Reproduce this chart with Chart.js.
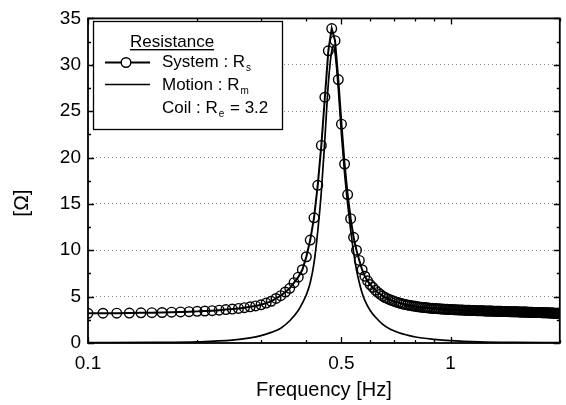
<!DOCTYPE html>
<html>
<head>
<meta charset="utf-8">
<script src="https://cdn.jsdelivr.net/npm/chart.js@4/dist/chart.umd.min.js"></script>
<style>
  body { margin: 0; background: #fff; }
  #chart { display: block; }
</style>
</head>
<body>
<canvas id="chart" width="566" height="405"></canvas>
<script>
const sysFreq = [
  0.10, 0.11, 0.12, 0.13, 0.14, 0.15, 0.16, 0.17, 0.18, 0.19,
  0.20, 0.21, 0.22, 0.23, 0.24, 0.25, 0.26, 0.27, 0.28, 0.29,
  0.30, 0.31, 0.32, 0.33, 0.34, 0.35, 0.36, 0.37, 0.38, 0.39,
  0.40, 0.41, 0.42, 0.43, 0.44, 0.45, 0.46, 0.47, 0.48, 0.49,
  0.50, 0.51, 0.52, 0.53, 0.54, 0.55, 0.56, 0.57, 0.58, 0.59,
  0.60, 0.61, 0.62, 0.63, 0.64, 0.65, 0.66, 0.67, 0.68, 0.69,
  0.70, 0.71, 0.72, 0.73, 0.74, 0.75, 0.76, 0.77, 0.78, 0.79,
  0.80, 0.81, 0.82, 0.83, 0.84, 0.85, 0.86, 0.87, 0.88, 0.89,
  0.90, 0.91, 0.92, 0.93, 0.94, 0.95, 0.96, 0.97, 0.98, 0.99,
  1.00, 1.01, 1.02, 1.03, 1.04, 1.05, 1.06, 1.07, 1.08, 1.09,
  1.10, 1.11, 1.12, 1.13, 1.14, 1.15, 1.16, 1.17, 1.18, 1.19,
  1.20, 1.21, 1.22, 1.23, 1.24, 1.25, 1.26, 1.27, 1.28, 1.29,
  1.30, 1.31, 1.32, 1.33, 1.34, 1.35, 1.36, 1.37, 1.38, 1.39,
  1.40, 1.41, 1.42, 1.43, 1.44, 1.45, 1.46, 1.47, 1.48, 1.49,
  1.50, 1.51, 1.52, 1.53, 1.54, 1.55, 1.56, 1.57, 1.58, 1.59,
  1.60, 1.61, 1.62, 1.63, 1.64, 1.65, 1.66, 1.67, 1.68, 1.69,
  1.70, 1.71, 1.72, 1.73, 1.74, 1.75, 1.76, 1.77, 1.78, 1.79,
  1.80, 1.81, 1.82, 1.83, 1.84, 1.85, 1.86, 1.87, 1.88, 1.89,
  1.90, 1.91, 1.92, 1.93, 1.94, 1.95, 1.96, 1.97, 1.98, 1.99,
  2.00
];
const sysRes = [
  3.20, 3.21, 3.22, 3.23, 3.25, 3.27, 3.29, 3.32, 3.35, 3.38,
  3.41, 3.45, 3.49, 3.54, 3.60, 3.66, 3.73, 3.81, 3.90, 4.00,
  4.12, 4.30, 4.50, 4.80, 5.10, 5.50, 5.90, 6.50, 7.10, 7.90,
  9.30, 11.1, 13.5, 17.0, 21.3, 26.5, 31.5, 33.9, 32.6, 28.4,
  23.6, 19.3, 16.0, 13.4, 11.4, 10.0, 8.90, 7.90, 7.20, 6.70,
  6.30, 6.00, 5.70, 5.45, 5.25, 5.05, 4.90, 4.78, 4.67, 4.57,
  4.48, 4.40, 4.33, 4.26, 4.20, 4.15, 4.10, 4.06, 4.02, 3.98,
  3.95, 3.92, 3.89, 3.86, 3.84, 3.82, 3.80, 3.78, 3.76, 3.74,
  3.72, 3.71, 3.70, 3.68, 3.67, 3.66, 3.65, 3.64, 3.63, 3.62,
  3.61, 3.60, 3.59, 3.58, 3.58, 3.57, 3.56, 3.56, 3.55, 3.54,
  3.54, 3.53, 3.52, 3.52, 3.51, 3.51, 3.50, 3.50, 3.49, 3.49,
  3.48, 3.48, 3.47, 3.47, 3.46, 3.46, 3.45, 3.45, 3.45, 3.44,
  3.44, 3.43, 3.43, 3.43, 3.42, 3.42, 3.41, 3.41, 3.41, 3.40,
  3.40, 3.40, 3.39, 3.39, 3.39, 3.38, 3.38, 3.38, 3.37, 3.37,
  3.37, 3.36, 3.36, 3.36, 3.35, 3.35, 3.35, 3.34, 3.34, 3.34,
  3.33, 3.33, 3.33, 3.32, 3.32, 3.32, 3.31, 3.31, 3.31, 3.30,
  3.30, 3.30, 3.29, 3.29, 3.29, 3.28, 3.28, 3.28, 3.27, 3.27,
  3.27, 3.26, 3.26, 3.26, 3.25, 3.25, 3.25, 3.24, 3.24, 3.24,
  3.23, 3.23, 3.23, 3.22, 3.22, 3.22, 3.21, 3.21, 3.21, 3.20,
  3.20
];

// Motion resistance R_m (solid line)
const motionFreq = [
  0.10, 0.15, 0.20, 0.25, 0.28, 0.30, 0.32, 0.34, 0.36, 0.38,
  0.39, 0.40, 0.41, 0.42, 0.43, 0.44, 0.45, 0.46, 0.47, 0.475,
  0.48, 0.49, 0.50, 0.51, 0.52, 0.53, 0.54, 0.55, 0.56, 0.57,
  0.58, 0.60, 0.62, 0.65, 0.68, 0.72, 0.76, 0.80, 0.90, 1.00,
  1.20, 1.50, 2.00
];
const motionRes = [
  0.03, 0.06, 0.12, 0.30, 0.55, 0.80, 1.15, 1.60, 2.40, 3.50,
  4.30, 5.20, 6.50, 8.60, 12.0, 16.3, 22.0, 28.0, 31.5, 32.0,
  31.3, 27.5, 22.5, 18.3, 15.0, 12.2, 9.80, 7.90, 6.50, 5.40,
  4.60, 3.50, 2.80, 2.00, 1.50, 1.10, 0.85, 0.65, 0.40, 0.25,
  0.12, 0.06, 0.03
];

const coilRes = 3.2;
const xTicks = [0.1, 0.5, 1];
const xMinorTicks = [0.2, 0.3, 0.4, 0.6, 0.7, 0.8, 0.9, 2];
const yMin = 0, yMax = 35, yStep = 5;

const FONT = '"Liberation Sans", Arial, Helvetica, sans-serif';

function toPoints(xs, ys) {
  return xs.map((x, i) => ({ x: x, y: ys[i] }));
}

// frame + inward ticks like the original plot
const framePlugin = {
  id: "frame",
  afterDraw(chart) {
    const { ctx, chartArea: a, scales } = chart;
    const xs = scales.x, ys = scales.y;
    ctx.save();
    ctx.strokeStyle = "#000";
    ctx.lineWidth = 1.8;
    ctx.strokeRect(a.left, a.top, a.right - a.left, a.bottom - a.top);
    ctx.lineWidth = 1.3;
    ctx.beginPath();
    for (let v = yMin; v <= yMax; v += yStep / 2) {
      const y = Math.round(ys.getPixelForValue(v)) + 0.5;
      const len = v % yStep === 0 ? 6 : 3;
      ctx.moveTo(a.left, y); ctx.lineTo(a.left + len, y);
      ctx.moveTo(a.right, y); ctx.lineTo(a.right - len, y);
    }
    xTicks.concat(xMinorTicks).forEach((v) => {
      const x = Math.round(xs.getPixelForValue(v)) + 0.5;
      const len = xTicks.includes(v) ? 6 : 3;
      ctx.moveTo(x, a.bottom); ctx.lineTo(x, a.bottom - len);
      ctx.moveTo(x, a.top); ctx.lineTo(x, a.top + len);
    });
    ctx.stroke();

    // y axis title
    ctx.fillStyle = "#000";
    ctx.font = "21px " + FONT;
    ctx.textAlign = "center";
    ctx.textBaseline = "middle";
    ctx.translate(22, 203);
    ctx.rotate(-Math.PI / 2);
    ctx.fillText("[\u03A9]", 0, 0);
    ctx.restore();
  },
};

function subText(ctx, x, y, main, sub, rest) {
  ctx.font = "17px " + FONT;
  ctx.fillText(main, x, y);
  let w = ctx.measureText(main).width;
  ctx.font = "10px " + FONT;
  ctx.fillText(sub, x + w + 1, y + 4);
  w += ctx.measureText(sub).width + 2;
  if (rest) {
    ctx.font = "17px " + FONT;
    ctx.fillText(rest, x + w, y);
  }
}

const legendPlugin = {
  id: "legendBox",
  afterDraw(chart) {
    const ctx = chart.ctx;
    ctx.save();
    ctx.fillStyle = "#fff";
    ctx.fillRect(93, 21, 190, 109);
    ctx.strokeStyle = "#000";
    ctx.lineWidth = 1.3;
    ctx.strokeRect(93.5, 21.5, 189, 108);

    ctx.fillStyle = "#000";
    ctx.textAlign = "left";
    ctx.textBaseline = "alphabetic";
    ctx.font = "17px " + FONT;
    ctx.fillText("Resistance", 130, 47);
    const w = ctx.measureText("Resistance").width;
    ctx.fillRect(130, 49, w, 1.4);

    // system sample
    ctx.lineWidth = 1.8;
    ctx.beginPath();
    ctx.moveTo(105, 62.5); ctx.lineTo(150, 62.5);
    ctx.stroke();
    ctx.lineWidth = 1.4;
    ctx.beginPath();
    ctx.arc(126, 62.5, 4.8, 0, Math.PI * 2);
    ctx.fillStyle = "#fff";
    ctx.fill();
    ctx.stroke();
    ctx.fillStyle = "#000";
    subText(ctx, 162, 67, "System : R", "s");

    // motion sample
    ctx.lineWidth = 1.6;
    ctx.beginPath();
    ctx.moveTo(105, 84.5); ctx.lineTo(150, 84.5);
    ctx.stroke();
    subText(ctx, 162, 90, "Motion : R", "m");

    subText(ctx, 162, 113, "Coil : R", "e", " = " + coilRes);
    ctx.restore();
  },
};

new Chart(document.getElementById("chart"), {
  type: "line",
  data: {
    datasets: [
      {
        label: "Motion : Rm",
        data: toPoints(motionFreq, motionRes),
        borderColor: "#000",
        borderWidth: 1.7,
        pointRadius: 0,
        fill: false,
        cubicInterpolationMode: "monotone",
      },
      {
        label: "System : Rs",
        data: toPoints(sysFreq, sysRes),
        borderColor: "#000",
        borderWidth: 2,
        pointRadius: 4.8,
        pointBorderWidth: 1.4,
        pointBorderColor: "#000",
        pointBackgroundColor: "rgba(0,0,0,0)",
        fill: false,
        tension: 0,
      },
    ],
  },
  options: {
    responsive: false,
    animation: false,
    events: [],
    layout: { padding: { top: 15, right: 4, left: 0, bottom: 0 } },
    plugins: {
      legend: { display: false },
      tooltip: { enabled: false },
    },
    scales: {
      x: {
        type: "logarithmic",
        min: 0.1,
        max: 2,
        afterBuildTicks: (scale) => {
          scale.ticks = xTicks.map((v) => ({ value: v }));
        },
        afterFit: (scale) => {
          scale.height = 62;
        },
        grid: { display: false, drawTicks: false },
        border: { display: false },
        ticks: {
          color: "#000",
          padding: 9,
          maxRotation: 0,
          autoSkip: false,
          font: { size: 19, family: FONT },
          callback: (v) => String(v),
        },
        title: {
          display: true,
          text: "Frequency [Hz]",
          color: "#000",
          font: { size: 20, family: FONT },
          padding: { top: 0, bottom: 3 },
        },
      },
      y: {
        min: yMin,
        max: yMax,
        afterFit: (scale) => {
          scale.width = 88;
        },
        ticks: {
          stepSize: yStep,
          color: "#000",
          padding: 7,
          font: { size: 19, family: FONT },
        },
        grid: {
          drawTicks: false,
          lineWidth: 1,
          color: (c) =>
            c.tick && (c.tick.value === yMin || c.tick.value === yMax)
              ? "rgba(0,0,0,0)"
              : "#8a8a8a",
        },
        border: { display: false, dash: [1, 3] },
      },
    },
  },
  plugins: [framePlugin, legendPlugin],
});
</script>
</body>
</html>
